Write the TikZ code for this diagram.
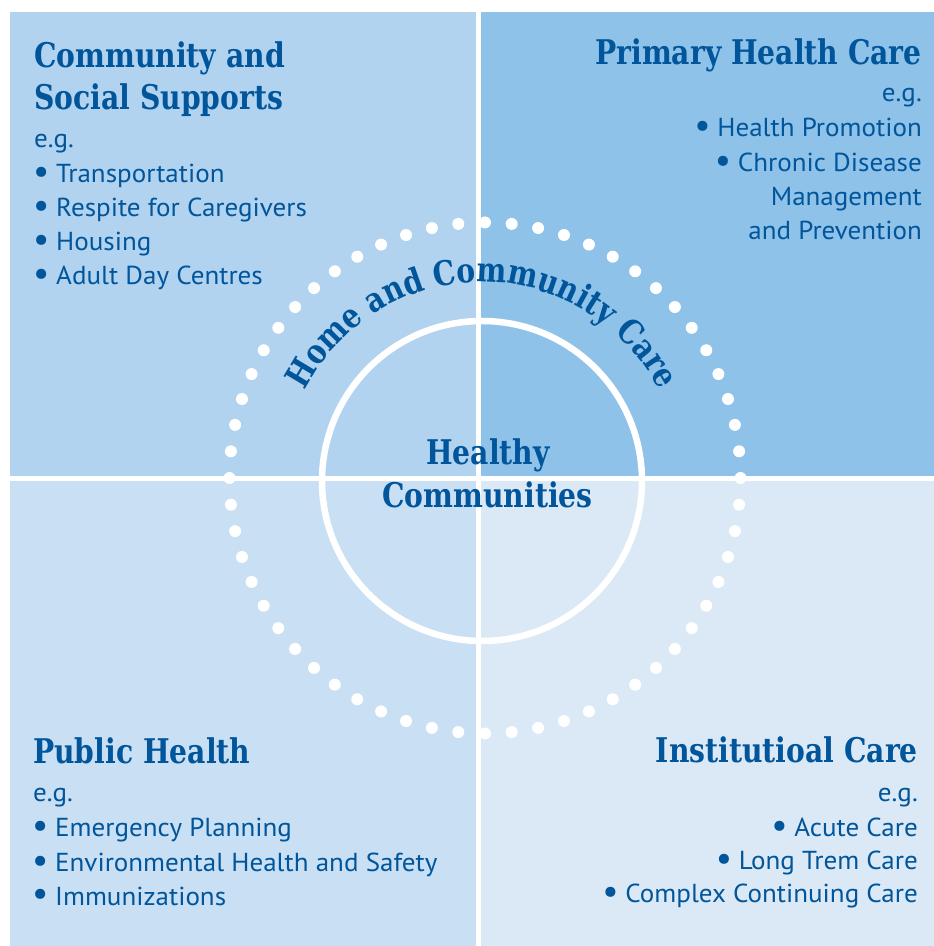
\documentclass[tikz,border=0pt]{standalone}
\usepackage{fontspec}
\usetikzlibrary{decorations.text}
\newfontfamily\headfont{DejaVu Serif}[FakeStretch=0.83]
\newfontfamily\bodyfont{PT Sans}[FakeStretch=1.04]
\newfontfamily\bulfont{PT Sans}
\newcommand\itembul{\makebox[23pt][l]{\raisebox{-1pt}{\bulfont\fontsize{36}{36}\selectfont •}}}
\definecolor{qtl}{HTML}{B1D3EF}
\definecolor{qtr}{HTML}{8EC2E9}
\definecolor{qbl}{HTML}{C9DFF4}
\definecolor{qbr}{HTML}{DBE9F6}
\definecolor{ink}{HTML}{00559B}
\tikzset{
  head/.style={inner sep=0pt, text=ink, font=\headfont\bfseries\fontsize{34}{40}\selectfont},
  body/.style={inner sep=0pt, text=ink, font=\bodyfont\fontsize{26}{30}\selectfont},
}
\begin{document}
\begin{tikzpicture}[x=1pt,y=1pt]
\useasboundingbox (0,0) rectangle (934,946);
\fill[white] (0,0) rectangle (934,946);
% quadrants
\fill[qtl] (10,467.5) rectangle (478.5,934);
\fill[qtr] (478.5,467.5) rectangle (934,934);
\fill[qbl] (10,0) rectangle (478.5,467.5);
\fill[qbr] (478.5,0) rectangle (934,467.5);
\draw[white, line width=5pt] (478.5,0) -- (478.5,934);
\draw[white, line width=5pt] (10,467.5) -- (934,467.5);
% dotted ring
\coordinate (ring) at (485,468);
\foreach \a in {0,6,...,354} {
  \fill[white] (ring) ++(\a:255.5) circle (6);
}
% inner circle
\coordinate (core) at (482,465);
\draw[white, line width=6.5pt] (core) circle (160);
% arc text
\path[decorate, decoration={text along path, text align=center,
  text={|\headfont\bfseries\fontsize{34}{40}\selectfont\color{ink}|Home and Community Care}}]
  (core) ++(160:199) arc (160:20:199);
% centre
\node[head, anchor=base] (h1) at (488,481) {Healthy};
\node[head, anchor=base] (h2) at (487.5,438) {Communities};
% top left
\node[head, anchor=base west] (tl1) at (34,878) {Community and};
\node[head, anchor=base west] (tl2) at (34,836) {Social Supports};
\node[body, anchor=base west] (tl3) at (34,798) {e.g.};
\node[body, anchor=base west] (tl4) at (33,763) {\itembul Transportation};
\node[body, anchor=base west] (tl5) at (33,729) {\itembul Respite for Caregivers};
\node[body, anchor=base west] (tl6) at (33,695) {\itembul Housing};
\node[body, anchor=base west] (tl7) at (33,661) {\itembul Adult Day Centres};
% top right
\node[head, anchor=base east] (tr1) at (922,881) {Primary Health Care};
\node[body, anchor=base east] (tr2) at (922,844) {e.g.};
\node[body, anchor=base east] (tr3) at (922,809) {\itembul Health Promotion};
\node[body, anchor=base east] (tr4) at (922,774) {\itembul Chronic Disease};
\node[body, anchor=base east] (tr5) at (922,740) {Management};
\node[body, anchor=base east] (tr6) at (922,706) {and Prevention};
% bottom left
\node[head, anchor=base west] (bl1) at (33,182) {Public Health};
\node[body, anchor=base west] (bl2) at (33,144) {e.g.};
\node[body, anchor=base west] (bl3) at (32,109) {\itembul Emergency Planning};
\node[body, anchor=base west] (bl4) at (32,74) {\itembul Environmental Health and Safety};
\node[body, anchor=base west] (bl5) at (32,41) {\itembul Immunizations};
% bottom right
\node[head, anchor=base east] (br1) at (918,183) {Institutioal Care};
\node[body, anchor=base east] (br2) at (918,144) {e.g.};
\node[body, anchor=base east] (br3) at (918,109) {\itembul Acute Care};
\node[body, anchor=base east] (br4) at (918,76) {\itembul Long Trem Care};
\node[body, anchor=base east] (br5) at (918,43) {\itembul Complex Continuing Care};
\end{tikzpicture}
\end{document}
